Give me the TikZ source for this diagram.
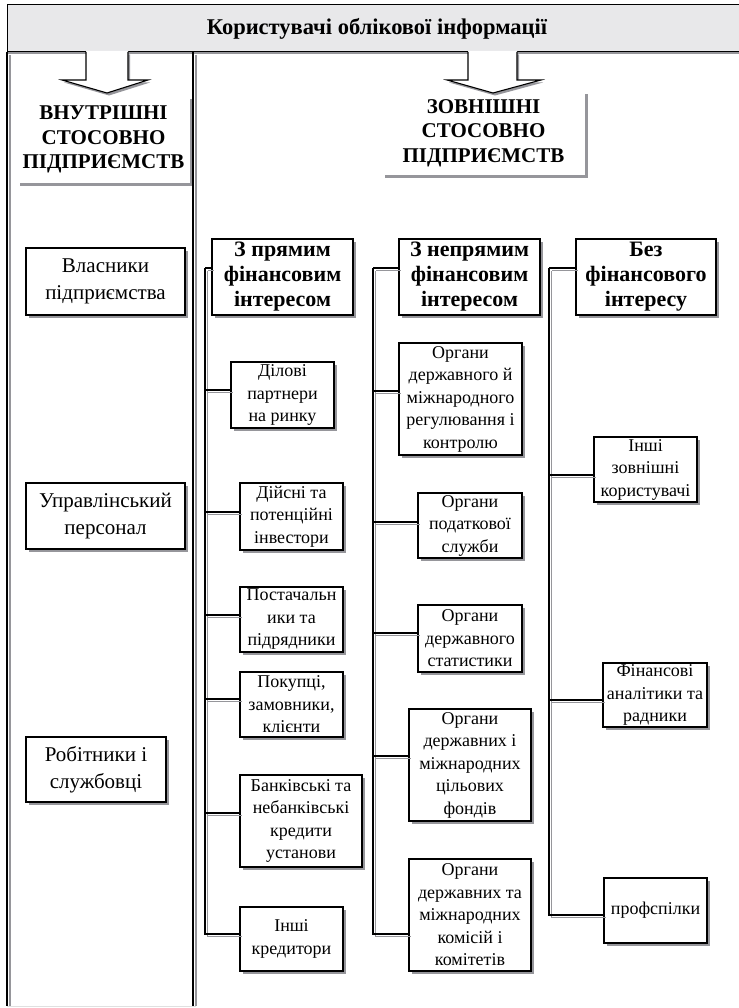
\documentclass[tikz,border=0pt]{standalone}
\usepackage{fontspec}
\setmainfont{Liberation Serif}
\usetikzlibrary{shadows}
\definecolor{hdrgray}{RGB}{232,232,234}
\definecolor{shd}{RGB}{150,150,155}
\newcommand\myconns[1]{%
  \draw[#1] ([yshift=9pt]h1.west) -- (t1);
  \draw[#1] ([yshift=5pt]a1.west) -| (t1);
  \draw[#1] ([yshift=4.5pt]a2.west) -| (t1);
  \draw[#1] ([yshift=4.5pt]a3.west) -| (t1);
  \draw[#1] ([yshift=5.5pt]a4.west) -| (t1);
  \draw[#1] ([yshift=8pt]a5.west) -| (t1);
  \draw[#1] ([yshift=5pt]a6.west) -| (t1);
  \draw[#1] ([yshift=9pt]h2.west) -- (t2);
  \draw[#1] ([yshift=8pt]b1.west) -| (t2);
  \draw[#1] ([yshift=3.5pt]b2.west) -| (t2);
  \draw[#1] ([yshift=5.5pt]b3.west) -| (t2);
  \draw[#1] ([yshift=9pt]b4.west) -| (t2);
  \draw[#1] ([yshift=-19pt]b5.west) -| (t2);
  \draw[#1] ([yshift=9pt]h3.west) -- (t3);
  \draw[#1] ([yshift=-5.5pt]c1.west) -| (t3);
  \draw[#1] ([yshift=-5pt]c2.west) -| (t3);
  \draw[#1] ([yshift=-4.5pt]c3.west) -| (t3);
}
\begin{document}
\begin{tikzpicture}[x=1pt,y=-1pt,
  boxshadow/.style={drop shadow={shadow xshift=3pt,shadow yshift=-3pt,fill=shd,opacity=1}},
  smallbox/.style={draw=black, line width=1.1pt, fill=white, inner sep=0pt, align=center,
    font=\fontsize{18}{22.5}\selectfont, boxshadow},
  headbox/.style={smallbox, font=\bfseries\fontsize{22}{25}\selectfont},
  leftbox/.style={smallbox, font=\fontsize{21}{27}\selectfont},
  capbox/.style={fill=white, inner sep=0pt, align=center,
    font=\bfseries\fontsize{21}{24.5}\selectfont, boxshadow},
  conn/.style={line width=1.8pt, black},
  connshadow/.style={line width=1.4pt, shd},
  colline/.style={line width=1.4pt, black},
  colshadow/.style={line width=1.4pt, shd},
  arrowbody/.style={fill=white, draw=black, line width=1.1pt, line join=miter},
  arrowshadow/.style={fill=shd}
]
\useasboundingbox (0,0) rectangle (738,1008);
\fill[white] (0,0) rectangle (738,1008);

% header
\node[draw=black, line width=1pt, fill=hdrgray, minimum width=740pt, minimum height=47pt,
  inner sep=0pt, font=\bfseries\fontsize{22.5}{26}\selectfont,
  drop shadow={shadow xshift=0pt,shadow yshift=-2.5pt,fill=shd,opacity=1}]
  (hdr) at (377,28.5) {Користувачі облікової інформації};

% left column
\draw[colshadow] (10,55) -- (10,1006);
\draw[colshadow] (196,55) -- (196,1006);
\draw[colline] (7,52) -- (7,1006);
\draw[colline] (193,52) -- (193,1006);
\draw[line width=0.6pt, black!12] (7,1006.5) -- (196,1006.5);

% caption boxes
\node[capbox, minimum width=173pt, minimum height=87pt] (inner) at (103.5,139.5)
  {ВНУТРІШНІ\\СТОСОВНО\\ПІДПРИЄМСТВ};
\draw[colline] (193,95) -- (193,190);
\node[capbox, minimum width=203pt, minimum height=84pt] (outer) at (483.5,133)
  {ЗОВНІШНІ\\СТОСОВНО\\ПІДПРИЄМСТВ};

% arrows
\begin{scope}[shift={(2,2.5)}]
  \fill[arrowshadow] (86,52) -- (86,80) -- (62,80) -- (107,93) -- (148,80) -- (128,80) -- (128,52) -- cycle;
  \fill[arrowshadow] (468,52) -- (468,80) -- (447,80) -- (493,93) -- (541,80) -- (517,80) -- (517,52) -- cycle;
\end{scope}
\fill[white] (86,51) -- (86,80) -- (62,80) -- (107,93) -- (148,80) -- (128,80) -- (128,51) -- cycle;
\draw[arrowbody] (86,52) -- (86,80) -- (62,80) -- (107,93) -- (148,80) -- (128,80) -- (128,52);
\fill[white] (468,51) -- (468,80) -- (447,80) -- (493,93) -- (541,80) -- (517,80) -- (517,51) -- cycle;
\draw[arrowbody] (468,52) -- (468,80) -- (447,80) -- (493,93) -- (541,80) -- (517,80) -- (517,52);

% left column boxes
\node[leftbox, minimum width=159pt, minimum height=67pt] (l1) at (105.5,281.5) {Власники\\підприємства};
\node[leftbox, minimum width=159pt, minimum height=66pt] (l2) at (105.5,516) {Управлінський\\персонал};
\node[leftbox, minimum width=140pt, minimum height=65pt] (l3) at (96,769.5) {Робітники і\\службовці};

% trunk tops
\coordinate (t1) at (205,268);
\coordinate (t2) at (373,268);
\coordinate (t3) at (549,268);

% group 1
\node[headbox, minimum width=141pt, minimum height=76pt] (h1) at (282.5,277) {З прямим\\фінансовим\\інтересом};
\node[smallbox, minimum width=103pt, minimum height=66pt] (a1) at (282.5,395) {Ділові\\партнери\\на ринку};
\node[smallbox, minimum width=103pt, minimum height=67pt] (a2) at (291.5,516.5) {Дійсні та\\потенційні\\інвестори};
\node[smallbox, minimum width=103pt, minimum height=65pt] (a3) at (291.5,619.5) {Постачальн\\ики та\\підрядники};
\node[smallbox, minimum width=103pt, minimum height=65pt] (a4) at (291.5,704.5) {Покупці,\\замовники,\\клієнти};
\node[smallbox, minimum width=122pt, minimum height=92pt] (a5) at (301,821) {Банківські та\\небанківські\\кредити\\установи};
\node[smallbox, minimum width=103pt, minimum height=64pt] (a6) at (291.5,939) {Інші\\кредитори};

% group 2
\node[headbox, minimum width=141pt, minimum height=76pt] (h2) at (469.5,277) {З непрямим\\фінансовим\\інтересом};
\node[smallbox, minimum width=123pt, minimum height=112pt] (b1) at (460.5,399) {Органи\\державного й\\міжнародного\\регулювання і\\контролю};
\node[smallbox, minimum width=104pt, minimum height=65pt] (b2) at (470,525.5) {Органи\\податкової\\служби};
\node[smallbox, minimum width=104pt, minimum height=67pt] (b3) at (470,638.5) {Органи\\державного\\статистики};
\node[smallbox, minimum width=122pt, minimum height=112pt] (b4) at (470,765) {Органи\\державних і\\міжнародних\\цільових\\фондів};
\node[smallbox, minimum width=122pt, minimum height=112pt] (b5) at (470,915) {Органи\\державних та\\міжнародних\\комісій і\\комітетів};

% group 3
\node[headbox, minimum width=140pt, minimum height=76pt] (h3) at (646,277) {Без\\фінансового\\інтересу};
\node[smallbox, minimum width=103pt, minimum height=65pt] (c1) at (645.5,469.5) {Інші\\зовнішні\\користувачі};
\node[smallbox, minimum width=104pt, minimum height=64pt] (c2) at (655,695) {Фінансові\\аналітики та\\радники};
\node[smallbox, minimum width=103pt, minimum height=65pt] (c3) at (655.5,910.5) {профспілки};

% connectors
\begin{scope}[transform canvas={xshift=2.5pt,yshift=-2.5pt}]
  \myconns{connshadow}
\end{scope}
\myconns{conn}
\end{tikzpicture}
\end{document}
